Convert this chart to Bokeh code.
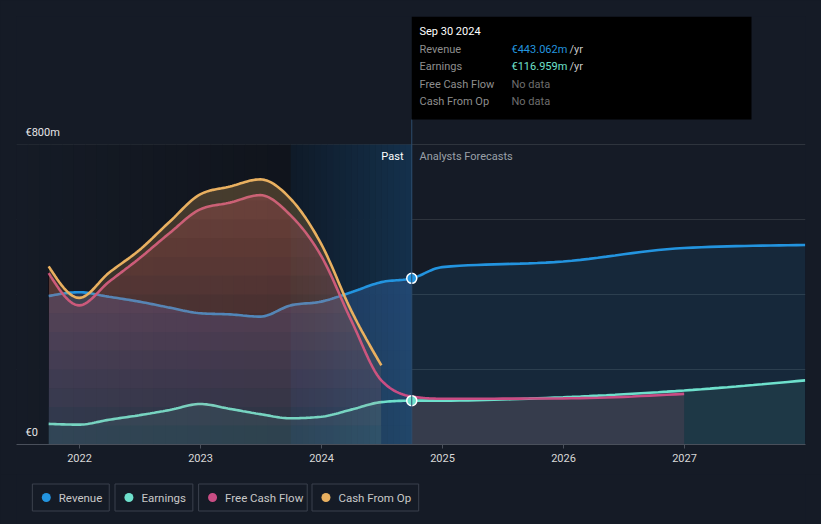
import numpy as np
import pandas as pd
from bokeh.plotting import figure
from bokeh.models import Range1d, FixedTicker, Label, BoxAnnotation
from bokeh.layouts import column
from bokeh.embed import file_html
from bokeh.resources import INLINE

# ---------------- data (€m) ----------------
past_dates = ["2021-09-30", "2021-12-31", "2022-03-31", "2022-06-30", "2022-09-30",
              "2022-12-31", "2023-03-31", "2023-06-30", "2023-09-30", "2023-12-31",
              "2024-03-31", "2024-06-30", "2024-09-30"]
revenue_past = [396, 406, 394, 381, 365, 350, 347, 341, 371, 381, 406, 433, 443.062]
earnings_past = [55, 53, 66, 78, 92, 108, 95, 81, 70, 74, 93, 113, 116.959]
fcf_past = [457, 371, 434, 496, 564, 627, 645, 665, 611, 503, 331, 171, 128]
cfo_dates = past_dates[:12]
cfo_past = [475, 391, 458, 518, 594, 667, 688, 707, 655, 535, 357, 211]

fc_dates = ["2024-09-30", "2024-12-31", "2025-12-31", "2026-12-31", "2027-12-31"]
revenue_fc = [443.062, 473, 488, 524, 532]
earnings_fc = [116.959, 117, 126, 144, 171]
fcf_fc_dates = ["2024-09-30", "2024-12-31", "2025-12-31", "2026-12-31"]
fcf_fc = [128, 122, 123, 135]

year_ticks = [2022, 2023, 2024, 2025, 2026, 2027]
y_ticks = [200, 400, 600, 800]
series_names = ["Revenue", "Earnings", "Free Cash Flow", "Cash From Op"]

# ---------------- styles ----------------
BG = "#151b26"
C_REV = "#2394df"
C_EARN = "#6ee0cc"
C_FCF = "#c94d84"
C_CFO = "#e9b060"
FONT = "Roboto"


def dec_year(dates):
    d = pd.to_datetime(pd.Series(dates))
    days = np.where(d.dt.is_leap_year, 366, 365)
    return (d.dt.year + (d.dt.dayofyear - 1) / days).to_numpy(dtype=float)


def monotone(x, y, n=14):
    """Render a monotone cubic curve through the data points (like d3 curveMonotoneX)."""
    x = np.asarray(x, float)
    y = np.asarray(y, float)
    m = len(x)
    h = np.diff(x)
    s = np.diff(y) / h
    t = np.zeros(m)
    for i in range(1, m - 1):
        pp = (s[i - 1] * h[i] + s[i] * h[i - 1]) / (h[i - 1] + h[i])
        t[i] = (np.sign(s[i - 1]) + np.sign(s[i])) * min(abs(s[i - 1]), abs(s[i]), 0.5 * abs(pp))
    t[0] = (3 * s[0] - t[1]) / 2
    t[-1] = (3 * s[-1] - t[-2]) / 2
    xs, ys = [], []
    u = np.linspace(0, 1, n, endpoint=False)
    h00 = 2 * u**3 - 3 * u**2 + 1
    h10 = u**3 - 2 * u**2 + u
    h01 = -2 * u**3 + 3 * u**2
    h11 = u**3 - u**2
    for i in range(m - 1):
        xs.append(x[i] + u * h[i])
        ys.append(h00 * y[i] + h10 * h[i] * t[i] + h01 * y[i + 1] + h11 * h[i] * t[i + 1])
    xs.append([x[-1]])
    ys.append([y[-1]])
    return np.concatenate(xs), np.concatenate(ys)


xp = dec_year(past_dates)
xc = dec_year(cfo_dates)
xf = dec_year(fc_dates)
xff = dec_year(fcf_fc_dates)
now_x = xp[-1]
cut_x = xc[-1]

rev_x, rev_y = monotone(np.r_[xp, xf[1:]], np.r_[revenue_past, revenue_fc[1:]])
earn_x, earn_y = monotone(np.r_[xp, xf[1:]], np.r_[earnings_past, earnings_fc[1:]])
fcf_x, fcf_y = monotone(np.r_[xp, xff[1:]], np.r_[fcf_past, fcf_fc[1:]])
cfo_x, cfo_y = monotone(xc, cfo_past)


# pixel helpers for placing annotations (page pixels -> data)
def PX(px):
    return 2022 + (px - 79) / 121.0


def PY(py):
    return (444 - py) * 800.0 / 300.0


W, H = 821, 474
p = figure(width=W, height=H, output_backend="svg", toolbar_location=None,
           x_range=Range1d(PX(16), PX(805)), y_range=Range1d(0, PY(16)),
           min_border_left=16, min_border_right=16, min_border_top=16, min_border_bottom=30)
p.background_fill_color = BG
p.border_fill_color = BG
p.outline_line_color = None
p.xgrid.visible = False
p.yaxis.visible = False
p.ygrid.ticker = FixedTicker(ticks=y_ticks)
p.ygrid.grid_line_color = "#ffffff"
p.ygrid.grid_line_alpha = 0.11

p.xaxis.ticker = FixedTicker(ticks=year_ticks)
p.xaxis.major_label_overrides = {t: str(t) for t in year_ticks}
p.xaxis.axis_line_color = "#4a505b"
p.xaxis.major_tick_line_color = "#4a505b"
p.xaxis.major_tick_out = 4
p.xaxis.major_tick_in = 0
p.xaxis.minor_tick_line_color = None
p.xaxis.major_label_standoff = 5
p.xaxis.major_label_text_color = "#d8d8d8"
p.xaxis.major_label_text_font = FONT
p.xaxis.major_label_text_font_size = "11px"


# ---------------- background gradients ----------------
def ramp(x0, x1, c0, c1, n):
    edges = np.linspace(x0, x1, n + 1)
    c0 = np.array(c0, float)
    c1 = np.array(c1, float)
    cols = []
    for i in range(n):
        tt = (i + 0.5) / n
        c = c0 + (c1 - c0) * tt
        cols.append("#%02x%02x%02x" % tuple(int(round(v)) for v in c))
    p.quad(left=edges[:-1], right=edges[1:] + 0.003, bottom=0, top=800,
           fill_color=cols, line_color=None)


hl_start = dec_year(["2023-09-30"])[0]
ramp(PX(16), hl_start, (21, 27, 38), (16, 20, 28), 24)
ramp(hl_start, now_x, (15, 26, 40), (20, 49, 76), 20)


# ---------------- area helpers ----------------
def grad_area(x, y, color, a_lo, a_hi, nb=16, vmax=800.0):
    """Vertical gradient fill: nested layers, each from a level up to the curve."""
    prev = 0.0
    for k in range(nb):
        lo = vmax * k / nb
        if lo >= y.max():
            break
        target = a_lo + (a_hi - a_lo) * (k + 0.5) / nb
        a = 1 - (1 - target) / (1 - prev)
        prev = target
        p.varea(x=x, y1=np.minimum(y, lo), y2=y, fill_color=color, fill_alpha=a)


mp_rev = rev_x <= now_x + 1e-9
mf_rev = rev_x >= now_x - 1e-9
mp_cut = earn_x <= cut_x + 1e-9
mf_earn = earn_x >= now_x - 1e-9
mp_fcf = fcf_x <= cut_x + 1e-9
mf_fcf = fcf_x >= now_x - 1e-9

# revenue fills
grad_area(rev_x[mp_rev], rev_y[mp_rev], "#5aa8f0", 0.18, 0.30)
p.varea(x=rev_x[mf_rev], y1=0, y2=rev_y[mf_rev], fill_color=C_REV, fill_alpha=0.115)
# earnings fills
p.varea(x=earn_x[mp_cut], y1=0, y2=earn_y[mp_cut], fill_color=C_EARN, fill_alpha=0.09)
p.varea(x=earn_x[mf_earn], y1=0, y2=earn_y[mf_earn], fill_color=C_EARN, fill_alpha=0.09)
# fcf forecast fill
p.varea(x=fcf_x[mf_fcf], y1=0, y2=fcf_y[mf_fcf], fill_color="#4a4052", fill_alpha=0.55)

# revenue & earnings lines
p.line(rev_x, rev_y, line_color=C_REV, line_width=2.6)
p.line(earn_x, earn_y, line_color=C_EARN, line_width=2.6)

# fcf past fill + line
grad_area(fcf_x[mp_fcf], fcf_y[mp_fcf], C_FCF, 0.02, 0.36)
p.line(fcf_x, fcf_y, line_color=C_FCF, line_width=2.6)

# cfo fill + line
grad_area(cfo_x, cfo_y, C_CFO, 0.02, 0.34)
p.line(cfo_x, cfo_y, line_color=C_CFO, line_width=2.6)

# markers at the present
p.scatter([now_x], [revenue_past[-1]], size=10, fill_color=C_REV, line_color="white", line_width=1.5)
p.scatter([now_x], [earnings_past[-1]], size=10, fill_color=C_EARN, line_color="white", line_width=1.5)

# divider
p.segment(x0=[now_x], y0=[0], x1=[now_x], y1=[PY(119)], line_color="#2c4d6c", line_width=1)


# ---------------- texts ----------------
def lab(x, y, text, color, size="11px", align="left", style="normal"):
    p.add_layout(Label(x=x, y=y, text=text, text_color=color, text_font=FONT,
                       text_font_size=size, text_align=align, text_baseline="middle",
                       text_font_style=style))


lab(PX(25), PY(132), "€800m", "#e6e6e6")
lab(PX(25), PY(432), "€0", "#e6e6e6")
lab(PX(403), PY(156), "Past", "#ffffff", align="right")
lab(PX(419), PY(156), "Analysts Forecasts", "#9aa0a8")

# tooltip box
p.add_layout(BoxAnnotation(left=now_x, right=PX(751), bottom=PY(119), top=PY(16),
                           fill_color="#000000", fill_alpha=1.0, line_color=None))
for py in [41, 58, 76, 93, 111]:
    p.segment(x0=[PX(419)], y0=[PY(py)], x1=[PX(745)], y1=[PY(py)],
              line_color="#3a3a3a", line_width=1)
lab(PX(419), PY(31), "Sep 30 2024", "#ffffff", size="11px")
rows = [("Revenue", "€%.3fm" % revenue_past[-1], C_REV, True),
        ("Earnings", "€%.3fm" % earnings_past[-1], C_EARN, True),
        ("Free Cash Flow", "No data", "#6e6e6e", False),
        ("Cash From Op", "No data", "#6e6e6e", False)]
for (name, val, col, per), py in zip(rows, [49, 66, 84, 101]):
    lab(PX(419), PY(py), name, "#8e8e8e")
    lab(PX(511), PY(py), val, col)
    if per:
        lab(PX(569), PY(py), "/yr", "#c8c8c8")

# ---------------- legend ----------------
LH = 524 - H
lg = figure(width=W, height=LH, output_backend="svg", toolbar_location=None,
            x_range=Range1d(0, W), y_range=Range1d(LH, 0),
            min_border=0, x_axis_location=None, y_axis_location=None)
lg.background_fill_color = BG
lg.border_fill_color = BG
lg.outline_line_color = None
lg.grid.visible = False
boxes = [(16, 97), (102, 184), (189, 303), (307, 419)]
cols = [C_REV, C_EARN, C_FCF, C_CFO]
top, bot, mid = 483 - H, 511 - H, 497 - H
for (l, r), c, name in zip(boxes, cols, series_names):
    lg.quad(left=l + 0.5, right=r - 0.5, top=top + 0.5, bottom=bot - 0.5,
            fill_color=None, line_color="#3b414d", line_width=1)
    lg.scatter([l + 15], [mid], size=9, fill_color=c, line_color=None)
    lg.add_layout(Label(x=l + 28, y=mid, text=name, text_color="#c8c8c8",
                        text_font=FONT, text_font_size="11.5px", text_baseline="middle"))

layout = column(p, lg, spacing=0)
html = file_html(layout, INLINE)
html = html.replace("</head>", "<style>html,body{background:%s;}</style></head>" % BG, 1)
open("out.html", "w").write(html)
